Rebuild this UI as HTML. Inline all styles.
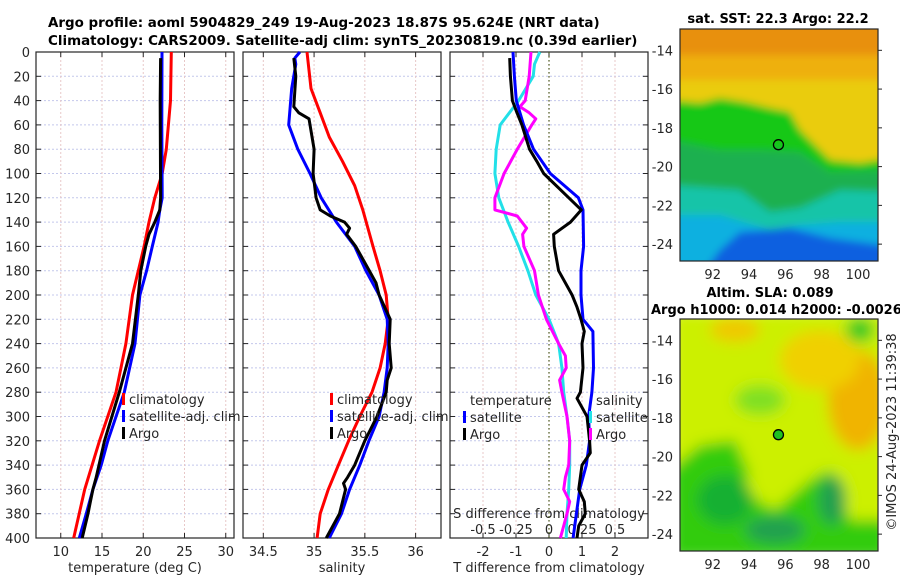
<!DOCTYPE html>
<html><head><meta charset="utf-8"><style>
body{margin:0;background:#fff;}
svg{display:block;font-family:"DejaVu Sans","Liberation Sans",sans-serif;}
.t{fill:#262626;font-size:13px;}
.b{fill:#000;font-size:13px;font-weight:bold;}
.bt{fill:#000;font-size:13.45px;font-weight:bold;}
</style></head><body>
<svg id="c" width="900" height="580" viewBox="0 0 900 580"></svg>
<script>
// ---------- data ----------
const depthTicks=[0,20,40,60,80,100,120,140,160,180,200,220,240,260,280,300,320,340,360,380,400];
const tempTicks=[10,15,20,25,30];
const salTicks=[34.5,35,35.5,36];
const tdiffTicks=[-2,-1,0,1,2];
const sdiffTicks=[-0.5,-0.25,0,0.25,0.5];
const lonTicks=[92,94,96,98,100];
const latTicks=[-14,-16,-18,-20,-22,-24];
const argoLon=95.62, argoLat=-18.87;

const tClimD=[0,40,80,100,120,140,160,180,200,240,280,320,360,400];
const tClimV=[23.4,23.3,22.8,22.3,21.4,20.7,20.1,19.4,18.7,17.9,16.7,14.7,12.9,11.57];
const tSatD=[0,60,120,130,140,160,180,200,240,280,320,340,360,380,400];
const tSatV=[22.27,22.25,22.3,22.0,21.8,21.1,20.4,19.6,19.0,17.7,15.7,14.9,13.9,13.1,12.25];
const tArgoD=[5,40,120,130,140,150,160,180,200,240,280,320,350,360,370,380,400];
const tArgoV=[22.1,22.05,22.1,22.0,21.4,20.7,20.3,19.7,19.4,18.7,17.1,15.3,14.3,13.9,13.6,13.3,12.6];

const sClimD=[0,30,50,70,90,110,130,160,180,200,220,240,260,280,300,320,340,360,380,400];
const sClimV=[34.93,34.97,35.06,35.15,35.28,35.4,35.48,35.58,35.65,35.71,35.73,35.70,35.65,35.57,35.45,35.34,35.24,35.14,35.06,35.03];
const sSatD=[0,5,10,30,60,80,100,120,140,160,180,200,220,240,260,280,300,320,340,360,380,400];
const sSatV=[34.86,34.81,34.82,34.78,34.75,34.84,34.96,35.07,35.22,35.4,35.51,35.64,35.72,35.73,35.72,35.69,35.64,35.54,35.45,35.35,35.27,35.15];
const sArgoD=[5,20,45,50,55,80,100,120,130,135,140,145,150,160,175,190,200,220,240,260,270,280,300,320,340,350,355,360,380,400];
const sArgoV=[34.80,34.82,34.8,34.85,34.95,35.0,34.99,35.02,35.06,35.16,35.3,35.35,35.32,35.41,35.51,35.61,35.64,35.75,35.74,35.76,35.72,35.71,35.62,35.5,35.4,35.33,35.29,35.31,35.25,35.12];

const dTSatD=[0,20,40,60,80,100,120,130,160,180,200,220,230,260,280,300,320,340,360,380,400];
const dTSatV=[-1.09,-1.05,-0.99,-0.77,-0.47,0.04,0.89,1.03,1.05,0.97,0.97,1.03,1.33,1.35,1.30,1.2,1.23,1.13,0.93,0.83,0.73];
const dTArgoD=[5,20,40,50,60,80,90,100,120,130,140,150,160,180,200,210,220,230,240,260,280,285,300,320,330,340,360,370,380,390,400];
const dTArgoV=[-1.19,-1.17,-1.11,-0.97,-0.82,-0.59,-0.37,-0.16,0.6,0.98,0.65,0.14,0.16,0.29,0.7,0.85,0.97,1.07,1.0,1.03,0.95,0.85,1.15,1.23,1.25,1.0,0.9,1.07,1.1,0.9,0.85];
const dSArgoD=[0,20,40,45,50,55,60,80,100,120,130,135,145,150,160,180,200,220,240,250,260,270,280,300,320,340,350,360,370,380,390,400];
const dSArgoV=[-0.136,-0.15,-0.18,-0.22,-0.15,-0.10,-0.13,-0.24,-0.34,-0.41,-0.41,-0.24,-0.17,-0.2,-0.19,-0.11,-0.08,-0.02,0.073,0.124,0.13,0.08,0.098,0.136,0.157,0.149,0.124,0.111,0.157,0.136,0.111,0.086];
const dSSatD=[0,10,20,40,60,80,100,120,140,160,180,200,220,240,260,280,300,320,340,360,380,400];
const dSSatV=[-0.07,-0.11,-0.12,-0.23,-0.37,-0.40,-0.41,-0.38,-0.31,-0.23,-0.16,-0.10,0,0.073,0.098,0.111,0.136,0.157,0.157,0.149,0.136,0.13];

// ---------- helpers ----------
const NS='http://www.w3.org/2000/svg';
const svg=document.getElementById('c');
function el(tag,attrs,parent,text){const e=document.createElementNS(NS,tag);for(const k in attrs)e.setAttribute(k,attrs[k]);if(text!==undefined)e.textContent=text;(parent||svg).appendChild(e);return e;}
const TOP=52,BOT=538;
const yD=d=>TOP+d*(BOT-TOP)/400;
function lin(d0,d1,r0,r1){return v=>r0+(v-d0)*(r1-r0)/(d1-d0);}
const P1={x0:36,x1:234}, P2={x0:243,x1:441}, P3={x0:450,x1:648};
const xT=lin(7,31,P1.x0,P1.x1);
const xS=lin(34.3,36.25,P2.x0,P2.x1);
const xDT=lin(-3,3,P3.x0,P3.x1);
const xDS=lin(-0.75,0.75,P3.x0,P3.x1);

function panelFrame(P,xt,ticks,name){
  const g=el('g',{});
  
  
  depthTicks.forEach(d=>{ if(d>0&&d<400){el('line',{x1:P.x0,x2:P.x1,y1:yD(d),y2:yD(d),stroke:'#c4c8ec','stroke-width':1,'stroke-dasharray':'2,2'},g);}
    el('line',{x1:P.x0,x2:P.x0+5,y1:yD(d),y2:yD(d),stroke:'#262626'},g);
    el('line',{x1:P.x1-5,x2:P.x1,y1:yD(d),y2:yD(d),stroke:'#262626'},g);});
  ticks.forEach(t=>{const x=xt(t);el('line',{x1:x,x2:x,y1:TOP,y2:BOT,stroke:'#e8c8c8','stroke-width':1,'stroke-dasharray':'2,2'},g);
    el('line',{x1:x,x2:x,y1:BOT,y2:BOT-5,stroke:'#262626'},g);el('line',{x1:x,x2:x,y1:TOP,y2:TOP+5,stroke:'#262626'},g);});
  el('rect',{x:P.x0,y:TOP,width:P.x1-P.x0,height:BOT-TOP,fill:'none',stroke:'#262626','stroke-width':1.2},g);
  return g;
}
function series(D,V,xf,color,name,w){
  let p='';D.forEach((d,i)=>{p+=(i?'L':'M')+xf(V[i]).toFixed(1)+','+yD(d).toFixed(1);});
  const e=el('path',{d:p,fill:'none',stroke:color,'stroke-width':w||3,'stroke-linejoin':'round'});
  
  
}
function txt(x,y,s,cls,anchor,name,extra){const e=el('text',Object.assign({x:x,y:y,class:cls||'t','text-anchor':anchor||'middle'},extra||{}),svg,s);return e;}
function legend(x,y,color,label,name){el('rect',{x:x,y:y-11,width:3,height:12,fill:color});txt(x+7,y,label,'t','start',name);}

// titles
txt(48,27,'Argo profile: aoml 5904829_249 19-Aug-2023 18.87S 95.624E (NRT data)','bt','start','title-line-1');
txt(48,45,'Climatology: CARS2009. Satellite-adj clim: synTS_20230819.nc (0.39d earlier)','bt','start','title-line-2');

// panels
panelFrame(P1,xT,tempTicks,'temperature-panel');
panelFrame(P2,xS,salTicks,'salinity-panel');
panelFrame(P3,xDT,tdiffTicks,'difference-panel');
depthTicks.forEach(d=>txt(30,yD(d)+5,String(d),'t','end','depth-tick-label'));
tempTicks.forEach(t=>txt(xT(t),556,String(t),'t','middle','temp-tick-label'));
salTicks.forEach(t=>txt(xS(t),556,String(t),'t','middle','sal-tick-label'));
tdiffTicks.forEach(t=>txt(xDT(t),556,String(t),'t','middle','tdiff-tick-label'));
sdiffTicks.forEach(t=>txt(xDS(t),534,String(t),'t','middle','sdiff-tick-label'));
txt(135,572,'temperature (deg C)','t','middle','x-axis-title-temperature');
txt(342,572,'salinity','t','middle','x-axis-title-salinity');
txt(549,572,'T difference from climatology','t','middle','x-axis-title-tdiff');
txt(549,518,'S difference from climatology','t','middle','x-axis-title-sdiff');
// zero line
const zl=el('line',{x1:xDT(0),x2:xDT(0),y1:TOP,y2:BOT,stroke:'#4a5a20','stroke-width':1.2,'stroke-dasharray':'1.5,2.5'});



series(tClimD,tClimV,xT,'#ff0000','temp-climatology-line');
series(tSatD,tSatV,xT,'#0000ff','temp-satellite-line');
series(tArgoD,tArgoV,xT,'#000000','temp-argo-line');
series(sClimD,sClimV,xS,'#ff0000','sal-climatology-line');
series(sSatD,sSatV,xS,'#0000ff','sal-satellite-line');
series(sArgoD,sArgoV,xS,'#000000','sal-argo-line');
series(dSSatD,dSSatV,xDS,'#22e0e8','sdiff-satellite-line');
series(dSArgoD,dSArgoV,xDS,'#ff00ff','sdiff-argo-line');
series(dTSatD,dTSatV,xDT,'#0000ff','tdiff-satellite-line');
series(dTArgoD,dTArgoV,xDT,'#000000','tdiff-argo-line');

legend(122,404,'#ff0000','climatology','legend-climatology');
legend(122,421,'#0000ff','satellite-adj. clim','legend-satellite');
legend(122,438,'#000000','Argo','legend-argo');
legend(330,404,'#ff0000','climatology','legend-climatology');
legend(330,421,'#0000ff','satellite-adj. clim','legend-satellite');
legend(330,438,'#000000','Argo','legend-argo');
txt(470,405,'temperature','t','start','legend-temperature-heading');
legend(463,422,'#0000ff','satellite','legend-t-satellite');
legend(463,439,'#000000','Argo','legend-t-argo');
txt(596,405,'salinity','t','start','legend-salinity-heading');
legend(589,422,'#22e0e8','satellite','legend-s-satellite');
legend(589,439,'#ff00ff','Argo','legend-s-argo');

// ---------- maps ----------
const M={x0:680,x1:878};
const xLon=lin(90.2,101.1,M.x0,M.x1);
function mapFrame(y0,y1,id,name){
  const yLat=lin(-12.9,-24.87,y0,y1);
  const g=el('g',{'clip-path':'url(#'+id+')'});
  
  
  const cp=el('clipPath',{id:id});el('rect',{x:M.x0,y:y0,width:M.x1-M.x0,height:y1-y0},cp);svg.appendChild(cp);
  return {g,yLat,y0,y1};
}
const defs=el('defs',{});
const f=el('filter',{id:'bl',x:'-20%',y:'-20%',width:'140%',height:'140%'},defs);el('feGaussianBlur',{stdDeviation:4},f);
const f2=el('filter',{id:'bl2',x:'-30%',y:'-30%',width:'160%',height:'160%'},defs);el('feGaussianBlur',{stdDeviation:7},f2);

// SST map
const A=mapFrame(29,261,'clipA','sst-map');
const gA=el('g',{filter:'url(#bl)'},A.g);
el('rect',{x:670,y:20,width:220,height:250,fill:'#eacc10'},gA);
el('rect',{x:670,y:20,width:220,height:40,fill:'#e89010'},gA);
el('rect',{x:670,y:55,width:220,height:25,fill:'#eeb010'},gA);
el('polygon',{points:'670,100 700,103 720,98 745,102 770,108 790,112 800,130 830,160 860,163 890,158 890,270 670,270',fill:'#18c818'},gA);
el('polygon',{points:'670,140 720,150 760,150 800,152 830,172 890,170 890,270 670,270',fill:'#1cb050'},gA);
el('polygon',{points:'670,185 740,190 770,212 800,208 840,190 890,192 890,270 670,270',fill:'#14c4a8'},gA);
el('polygon',{points:'670,215 720,215 770,230 800,225 840,222 890,222 890,270 670,270',fill:'#10b0e0'},gA);
el('polygon',{points:'705,270 720,250 740,232 790,228 830,238 890,246 890,270',fill:'#1060e0'},gA);
el('rect',{x:M.x0,y:29,width:198,height:232,fill:'none',stroke:'#262626','stroke-width':1.2});
const mk1=el('circle',{cx:xLon(argoLon),cy:A.yLat(argoLat),r:5,fill:'none',stroke:'#000','stroke-width':1.3});



// SLA map
const B=mapFrame(319,551,'clipB','sla-map');
const gB=el('g',{filter:'url(#bl2)'},B.g);
el('rect',{x:670,y:310,width:220,height:250,fill:'#ccf000'},gB);
el('ellipse',{cx:858,cy:400,rx:30,ry:50,fill:'#f0b400'},gB);
el('ellipse',{cx:820,cy:360,rx:40,ry:30,fill:'#f0d000'},gB);
el('ellipse',{cx:735,cy:330,rx:25,ry:12,fill:'#f0c800'},gB);
el('ellipse',{cx:860,cy:330,rx:14,ry:12,fill:'#28c828'},gB);
el('polygon',{points:'670,470 700,445 735,440 750,475 740,490 775,510 810,480 830,470 850,520 890,520 890,560 670,560',fill:'#30cc10'},gB);
el('ellipse',{cx:725,cy:500,rx:28,ry:25,fill:'#18b030'},gB);
el('ellipse',{cx:775,cy:530,rx:30,ry:14,fill:'#20a050'},gB);
el('ellipse',{cx:832,cy:500,rx:14,ry:25,fill:'#20a050'},gB);
el('ellipse',{cx:760,cy:400,rx:25,ry:15,fill:'#80e020'},gB);
el('rect',{x:M.x0,y:319,width:198,height:232,fill:'none',stroke:'#262626','stroke-width':1.2});
const mk2=el('circle',{cx:xLon(argoLon),cy:B.yLat(argoLat),r:5,fill:'#20c020',stroke:'#000','stroke-width':1.3});



[A,B].forEach(m=>{
  latTicks.forEach(t=>{const y=m.yLat(t);txt(673,y+5,String(t),'t','end','lat-tick-label');
    el('line',{x1:M.x1,x2:M.x1+4,y1:y,y2:y,stroke:'#262626'});});
  lonTicks.forEach(t=>{const x=xLon(t);txt(x,m.y1+18,String(t),'t','middle','lon-tick-label');});
});
txt(778,23,'sat. SST: 22.3 Argo: 22.2','b','middle','sst-map-title');
txt(770,297,'Altim. SLA: 0.089','b','middle','sla-map-title');
txt(651,314,'Argo h1000: 0.014 h2000: -0.0026','b','start','sla-map-subtitle');
txt(896,432,'©IMOS 24-Aug-2023 11:39:38','t','middle','copyright-timestamp',{transform:'rotate(-90 896 432)'});
</script>
</body></html>
